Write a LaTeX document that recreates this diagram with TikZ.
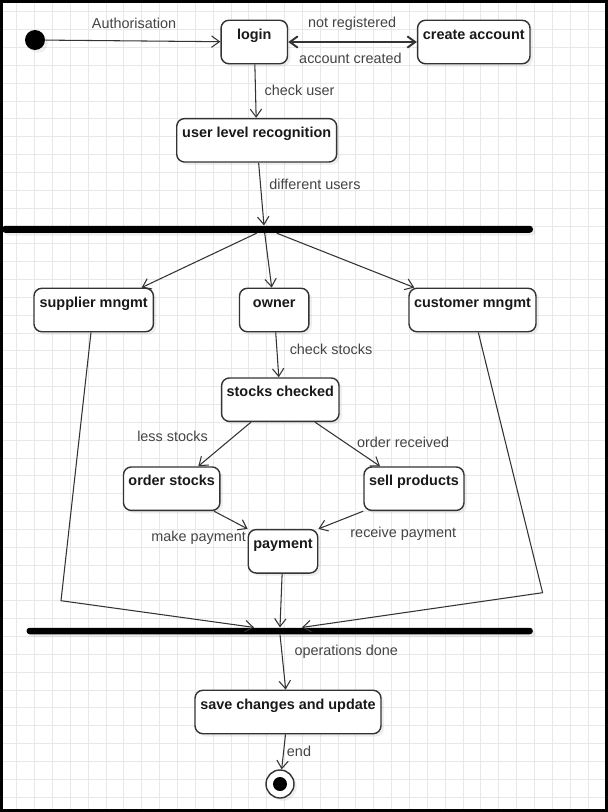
\documentclass[tikz,border=0pt]{standalone}
\usepackage{fontspec}
\setmainfont{Liberation Sans}
\usetikzlibrary{arrows.meta,shadows}
\definecolor{edge}{HTML}{333333}
\definecolor{lbltext}{HTML}{444444}
\tikzstyle{state} = [rectangle, rounded corners=4.5pt, draw=edge, line width=0.8pt, fill=white, inner sep=0pt, text height=10.8pt, text depth=13.95pt, font=\fontsize{8.2}{10}\selectfont\bfseries, text=black!90, drop shadow={opacity=0.12, shadow xshift=1.6pt, shadow yshift=-1.6pt}]
\tikzstyle{bar} = [rectangle, rounded corners=1.8pt, fill=black, inner sep=0pt, drop shadow={opacity=0.12, shadow xshift=1.6pt, shadow yshift=-1.6pt}]
\tikzstyle{lbl} = [font=\fontsize{8.2}{10}\selectfont, text=lbltext, inner sep=0pt]
\tikzstyle{arrow} = [draw=edge, line width=0.6pt, -{Straight Barb[length=4.5pt,width=6.5pt]}]
\tikzstyle{twoway} = [draw=edge, line width=1.1pt, {Straight Barb[length=4.5pt,width=6.5pt]}-{Straight Barb[length=4.5pt,width=6.5pt]}]
\tikzstyle{gridline} = [draw=black!9, line width=0.45pt]

\begin{document}
\begin{tikzpicture}[x=0.02cm, y=-0.02cm]
\useasboundingbox (0,0) rectangle (608,812);
\fill[white] (0,0) rectangle (608,812);
\foreach \gx in {0,...,33} \draw[gridline] ({16.7+17.85*\gx},0) -- ++(0,812);
\foreach \gy in {0,...,44} \draw[gridline] (0,{11.7+17.85*\gy}) -- ++(608,0);

\node (init) [circle, fill=black, inner sep=0pt, minimum size=0.4cm, drop shadow={opacity=0.12, shadow xshift=1.6pt, shadow yshift=-1.6pt}] at (35,40) {};
\node (login) [state, minimum width=1.33cm] at (254.3,42) {login};
\node (create) [state, minimum width=2.25cm] at (473.8,42) {create account};
\node (ulr) [state, minimum width=3.2cm] at (256.7,140.3) {user level recognition};
\node (fork1) [bar, minimum width=10.62cm, minimum height=0.14cm] at (267.5,229.3) {};
\node (supplier) [state, minimum width=2.39cm] at (93.7,310) {supplier mngmt};
\node (owner) [state, minimum width=1.39cm] at (274.2,310) {owner};
\node (customer) [state, minimum width=2.54cm] at (472.5,310) {customer mngmt};
\node (stocks) [state, minimum width=2.35cm] at (280.3,399.7) {stocks checked};
\node (order) [state, minimum width=1.93cm] at (171.7,488.7) {order stocks};
\node (sell) [state, minimum width=2.0cm] at (414,488.7) {sell products};
\node (payment) [state, minimum width=1.39cm] at (283,551.3) {payment};
\node (fork2) [bar, minimum width=10.13cm, minimum height=0.13cm] at (279.7,631) {};
\node (save) [state, minimum width=3.72cm] at (288,712) {save changes and update};
\node (final) [circle, draw=edge, line width=0.8pt, fill=white, inner sep=0pt, minimum size=0.56cm, path picture={\fill[black] (path picture bounding box.center) circle (0.14cm);}, drop shadow={opacity=0.12, shadow xshift=1.6pt, shadow yshift=-1.6pt}] at (280,784) {};

\coordinate (bendL) at (61,600.7);
\coordinate (bendR) at (542.6,592.7);

\draw [arrow] (init) -- (login);
\draw [twoway] (login) -- (create);
\draw [arrow] (login) -- (ulr);
\draw [arrow] (ulr) -- ([shift={(-3.5,0)}]fork1.north);
\draw [arrow] ([shift={(-10.8,0)}]fork1.south) -- ([shift={(48,0)}]supplier.north);
\draw [arrow] ([shift={(-2.8,0)}]fork1.south) -- ([shift={(-2.5,0)}]owner.north);
\draw [arrow] ([shift={(9.2,0)}]fork1.south) -- ([shift={(6,0)}]customer.north west);
\draw [arrow] (owner) -- (stocks);
\draw [arrow] ([shift={(-29.3,0)}]stocks.south) -- ([shift={(26.6,0)}]order.north);
\draw [arrow] ([shift={(34.7,0)}]stocks.south) -- ([shift={(-34,0)}]sell.north);
\draw [arrow] ([shift={(-6.7,0)}]order.south east) -- (payment.north west);
\draw [arrow] (sell.south west) -- (payment.north east);
\draw [arrow] ([shift={(-2.7,0)}]supplier.south) -- (bendL) -- ([shift={(-25.7,0)}]fork2.north);
\draw [arrow] ([shift={(5.8,0)}]customer.south) -- (bendR) -- ([shift={(22.3,0)}]fork2.north);
\draw [arrow] (payment) -- ([shift={(0.3,0)}]fork2.north);
\draw [arrow] ([shift={(0.3,0)}]fork2.south) -- (save);
\draw [arrow] (save) -- (final);

\node (lAuth) [lbl] at (134,23.3) {Authorisation};
\node (lNotReg) [lbl] at (352.2,24) {not registered};
\node (lCreated) [lbl] at (350.5,58.3) {account created};
\node (lCheckUser) [lbl] at (299.5,90.7) {check user};
\node (lUsers) [lbl] at (315,184.3) {different users};
\node (lCheckStocks) [lbl] at (331,349) {check stocks};
\node (lLess) [lbl] at (172.5,436.7) {less stocks};
\node (lReceived) [lbl] at (403.2,442.7) {order received};
\node (lMake) [lbl] at (198.7,537.3) {make payment};
\node (lReceive) [lbl] at (403.3,533.3) {receive payment};
\node (lDone) [lbl] at (346.3,651.7) {operations done};
\node (lEnd) [lbl] at (299,751.7) {end};

% outer frame
\draw[line width=1.7pt] (1.5,1.5) rectangle (606.5,810.5);
\end{tikzpicture}
\end{document}
